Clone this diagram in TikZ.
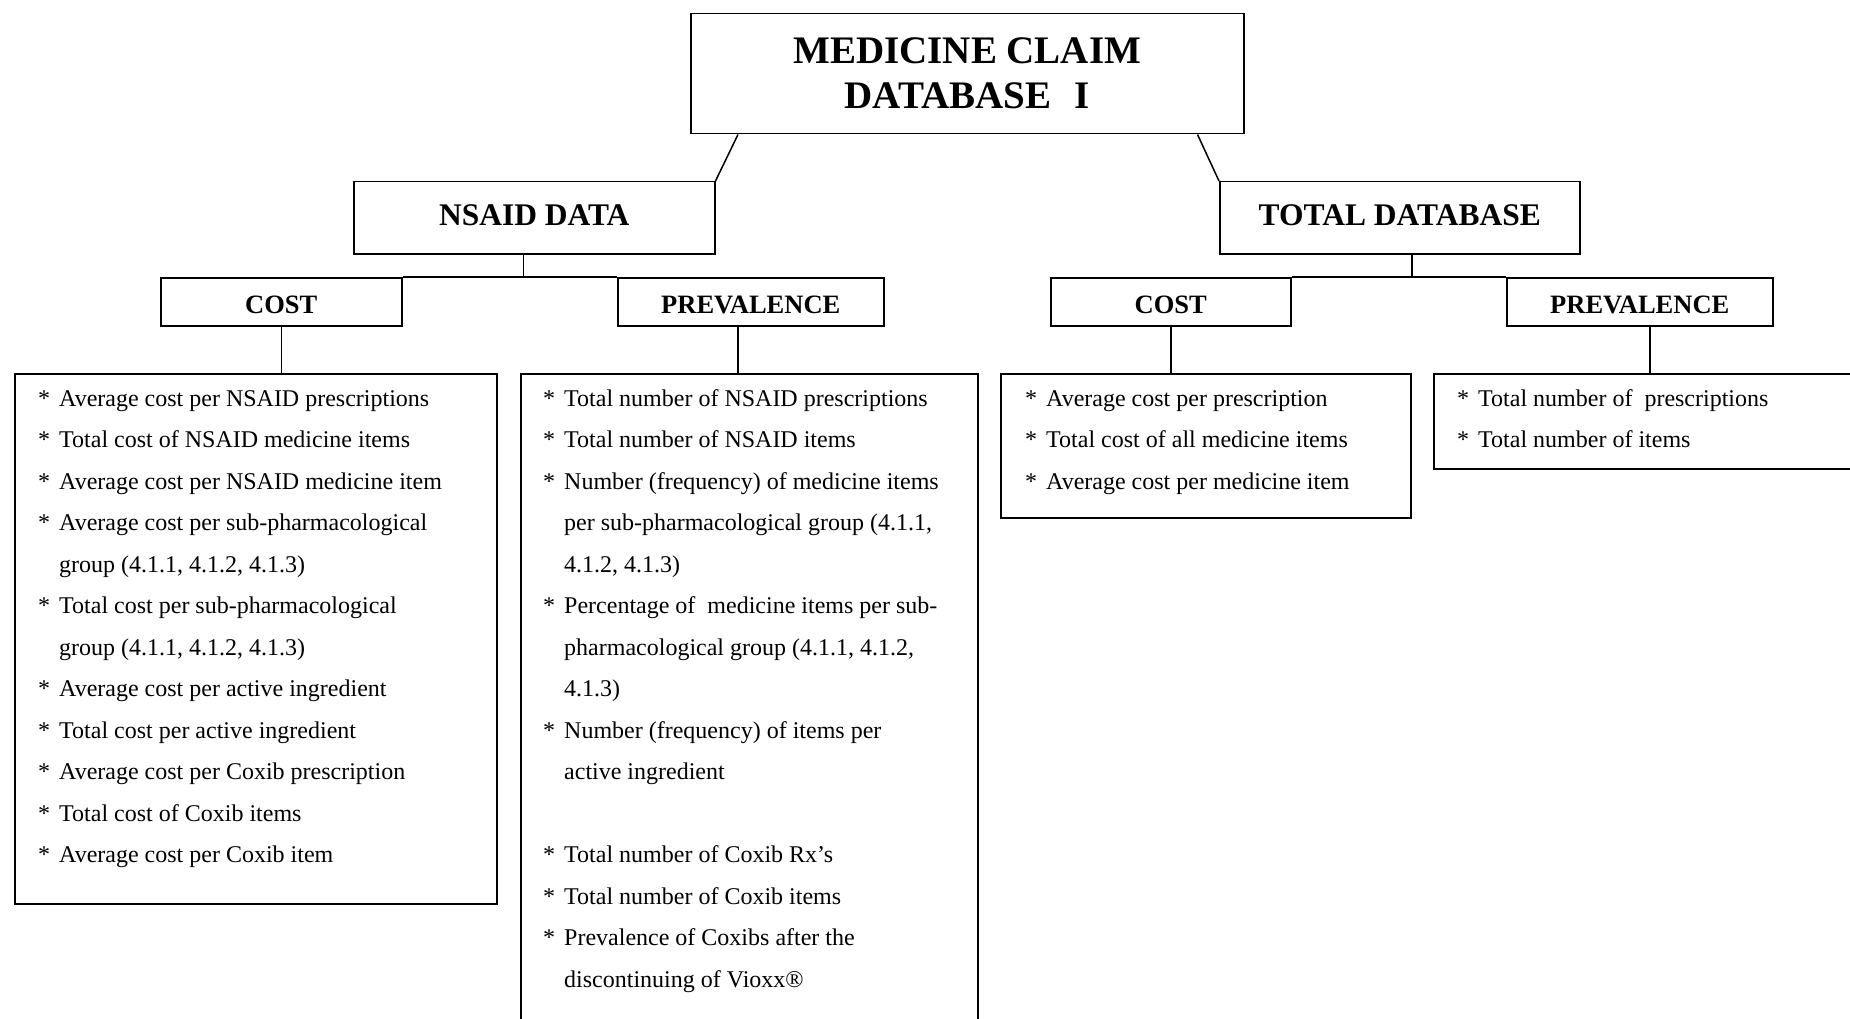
\documentclass[tikz,border=0pt]{standalone}
\usepackage{fontspec}
\setmainfont{Liberation Serif}
\newcommand\bul{\makebox[21pt][l]{*}}
\tikzset{
  box/.style={draw, line width=1.5pt, inner sep=0pt, anchor=north west},
  ttl/.style={font=\bfseries\fontsize{31.5}{36}\selectfont, text height=22pt, text depth=7pt},
  hd/.style={font=\bfseries\fontsize{26.5}{30}\selectfont, text height=23pt, text depth=0pt},
  ln/.style={font=\fontsize{24}{28}\selectfont, inner sep=0pt, anchor=base west},
  conn/.style={line width=1.5pt}
}
\begin{document}
\begin{tikzpicture}[x=1pt,y=-1pt]
\useasboundingbox (0,0) rectangle (1850,1019);
\fill[white] (0,0) rectangle (1850,1019);
\clip (0,0) rectangle (1850,1019);

% boxes
\node[box, align=center, font=\bfseries\fontsize{39}{45}\selectfont, minimum width=553pt, minimum height=120pt] (top) at (690,13) {MEDICINE CLAIM\\DATABASE\hspace{0.6em}I};
\node[box, ttl, minimum width=361pt, minimum height=72pt] (nsaid) at (353,181) {NSAID DATA};
\node[box, ttl, minimum width=360pt, minimum height=72pt] (total) at (1219,181) {TOTAL DATABASE};
\node[box, hd, minimum width=241pt, minimum height=48pt] (lcost) at (160,277) {COST};
\node[box, hd, minimum width=266pt, minimum height=48pt] (lprev) at (617,277) {PREVALENCE};
\node[box, hd, minimum width=240pt, minimum height=48pt] (rcost) at (1050,277) {COST};
\node[box, hd, minimum width=266pt, minimum height=48pt] (rprev) at (1506,277) {PREVALENCE};
\node[box, minimum width=482pt, minimum height=530pt] (lcostlist) at (14,373) {};
\node[box, minimum width=457pt, minimum height=700pt] (lprevlist) at (520,373) {};
\node[box, minimum width=410pt, minimum height=144pt] (rcostlist) at (1000,373) {};
\node[box, minimum width=460pt, minimum height=95pt] (rprevlist) at (1433,373) {};

% connectors
\draw[conn] ([xshift=48pt]top.south west) -- (nsaid.north east);
\draw[conn] ([xshift=-47pt]top.south east) -- (total.north west);
\draw[conn] ([xshift=-11pt]nsaid.south) -- ([xshift=-11pt]nsaid.south |- lcost.north);
\draw[conn] (lcost.north east) -- (lprev.north west);
\draw[conn] ([xshift=12pt]total.south) -- ([xshift=12pt]total.south |- rcost.north);
\draw[conn] (rcost.north east) -- (rprev.north west);
\draw[conn] (lcost.south) -- (lcost.south |- lcostlist.north);
\draw[conn] ([xshift=-13pt]lprev.south) -- ([xshift=-13pt]lprev.south |- lprevlist.north);
\draw[conn] (rcost.south) -- (rcost.south |- rcostlist.north);
\draw[conn] ([xshift=10pt]rprev.south) -- ([xshift=10pt]rprev.south |- rprevlist.north);

% left cost list
\foreach \rw/\tx [count=\k] in {
  0/{\bul Average cost per NSAID prescriptions},
  1/{\bul Total cost of NSAID medicine items},
  2/{\bul Average cost per NSAID medicine item},
  3/{\bul Average cost per sub-pharmacological},
  4/{\hspace*{21pt}group (4.1.1, 4.1.2, 4.1.3)},
  5/{\bul Total cost per sub-pharmacological},
  6/{\hspace*{21pt}group (4.1.1, 4.1.2, 4.1.3)},
  7/{\bul Average cost per active ingredient},
  8/{\bul Total cost per active ingredient},
  9/{\bul Average cost per Coxib prescription},
  10/{\bul Total cost of Coxib items},
  11/{\bul Average cost per Coxib item}}
  \node[ln] (lc\k) at (38,406+\rw*41.5) {\tx};

% left prevalence list
\foreach \rw/\tx [count=\k] in {
  0/{\bul Total number of NSAID prescriptions},
  1/{\bul Total number of NSAID items},
  2/{\bul Number (frequency) of medicine items},
  3/{\hspace*{21pt}per sub-pharmacological group (4.1.1,},
  4/{\hspace*{21pt}4.1.2, 4.1.3)},
  5/{\bul Percentage of\ \ medicine items per sub-},
  6/{\hspace*{21pt}pharmacological group (4.1.1, 4.1.2,},
  7/{\hspace*{21pt}4.1.3)},
  8/{\bul Number (frequency) of items per},
  9/{\hspace*{21pt}active ingredient},
  11/{\bul Total number of Coxib Rx’s},
  12/{\bul Total number of Coxib items},
  13/{\bul Prevalence of Coxibs after the},
  14/{\hspace*{21pt}discontinuing of Vioxx®}}
  \node[ln] (lp\k) at (543,406+\rw*41.5) {\tx};

% right cost list
\foreach \rw/\tx [count=\k] in {
  0/{\bul Average cost per prescription},
  1/{\bul Total cost of all medicine items},
  2/{\bul Average cost per medicine item}}
  \node[ln] (rc\k) at (1025,406+\rw*41.5) {\tx};

% right prevalence list
\foreach \rw/\tx [count=\k] in {
  0/{\bul Total number of\ \ prescriptions},
  1/{\bul Total number of items}}
  \node[ln] (rp\k) at (1457,406+\rw*41.5) {\tx};
\end{tikzpicture}
\end{document}
